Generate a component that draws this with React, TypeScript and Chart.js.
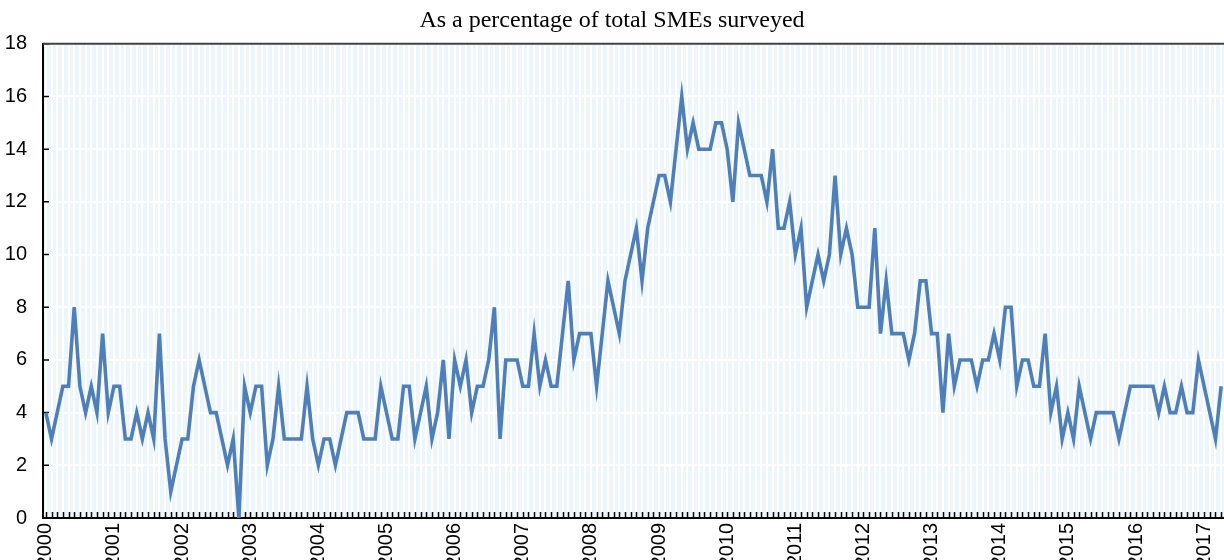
import React, { useEffect, useRef } from "react";
import { Chart, registerables } from "chart.js";

Chart.register(...registerables);

const years = [
  "2000", "2001", "2002", "2003", "2004", "2005", "2006", "2007", "2008",
  "2009", "2010", "2011", "2012", "2013", "2014", "2015", "2016", "2017",
];
const monthNumbers = ["01", "02", "03", "04", "05", "06", "07", "08", "09", "10", "11", "12"];

// Share of SMEs (%) - monthly
const seriesValues = [
  4, 3, 4, 5, 5, 8, 5, 4, 5, 4,
  7, 4, 5, 5, 3, 3, 4, 3, 4, 3,
  7, 3, 1, 2, 3, 3, 5, 6, 5, 4,
  4, 3, 2, 3, 0, 5, 4, 5, 5, 2,
  3, 5, 3, 3, 3, 3, 5, 3, 2, 3,
  3, 2, 3, 4, 4, 4, 3, 3, 3, 5,
  4, 3, 3, 5, 5, 3, 4, 5, 3, 4,
  6, 3, 6, 5, 6, 4, 5, 5, 6, 8,
  3, 6, 6, 6, 5, 5, 7, 5, 6, 5,
  5, 7, 9, 6, 7, 7, 7, 5, 7, 9,
  8, 7, 9, 10, 11, 9, 11, 12, 13, 13,
  12, 14, 16, 14, 15, 14, 14, 14, 15, 15,
  14, 12, 15, 14, 13, 13, 13, 12, 14, 11,
  11, 12, 10, 11, 8, 9, 10, 9, 10, 13,
  10, 11, 10, 8, 8, 8, 11, 7, 9, 7,
  7, 7, 6, 7, 9, 9, 7, 7, 4, 7,
  5, 6, 6, 6, 5, 6, 6, 7, 6, 8,
  8, 5, 6, 6, 5, 5, 7, 4, 5, 3,
  4, 3, 5, 4, 3, 4, 4, 4, 4, 3,
  4, 5, 5, 5, 5, 5, 4, 5, 4, 4,
  5, 4, 4, 6, 5, 4, 3, 5,
];

const yTicks = [0, 2, 4, 6, 8, 10, 12, 14, 16, 18];

const titleText = "As a percentage of total SMEs surveyed";

const allMonths: string[] = [];
years.forEach((y) => monthNumbers.forEach((m) => allMonths.push(`${y}-${m}`)));
const categories = allMonths.slice(0, seriesValues.length);

const TICK_FONT = "'Liberation Sans Narrow', 'Arial Narrow', 'Liberation Sans', Arial, sans-serif";

const framePlugin = {
  id: "framePlugin",
  beforeDraw(chart: any) {
    const { ctx, chartArea: a } = chart;
    ctx.save();
    ctx.fillStyle = "#edf7fb";
    ctx.fillRect(a.left, a.top, a.right - a.left, a.bottom - a.top);
    ctx.restore();
  },
  beforeDatasetsDraw(chart: any) {
    const { ctx, chartArea: a, scales } = chart;
    const xs = scales.x;
    const ys = scales.y;
    ctx.save();
    ctx.strokeStyle = "#000";
    ctx.lineWidth = 1.5;
    ctx.beginPath();
    for (let i = 0; i < categories.length; i++) {
      const px = Math.round(xs.getPixelForValue(i)) + 0.5;
      ctx.moveTo(px, a.bottom);
      ctx.lineTo(px, a.bottom - 6);
    }
    yTicks.forEach((v) => {
      const py = ys.getPixelForValue(v);
      ctx.moveTo(a.left, py);
      ctx.lineTo(a.left + 6, py);
    });
    ctx.stroke();
    ctx.strokeStyle = "#404040";
    ctx.lineWidth = 2;
    ctx.beginPath();
    ctx.moveTo(a.left, a.top);
    ctx.lineTo(a.right, a.top);
    ctx.stroke();
    ctx.restore();
  },
};

export default function App() {
  const canvasRef = useRef<HTMLCanvasElement | null>(null);

  useEffect(() => {
    if (!canvasRef.current) return;
    const chart = new Chart(canvasRef.current, {
      type: "line",
      data: {
        labels: categories,
        datasets: [
          {
            data: seriesValues,
            borderColor: "#4f7fb9",
            borderWidth: 3.6,
            pointRadius: 0,
            tension: 0,
            borderJoinStyle: "miter",
            fill: false,
          },
        ],
      },
      options: {
        animation: false,
        responsive: false,
        layout: { padding: { left: 0, right: 0, top: 0, bottom: 0 } },
        plugins: {
          legend: { display: false },
          tooltip: { enabled: false },
          title: {
            display: true,
            text: titleText,
            color: "#000",
            font: { family: "'Liberation Serif', 'Times New Roman', serif", size: 24, weight: "normal" },
            padding: { top: 6, bottom: 9 },
          },
        },
        scales: {
          x: {
            type: "category",
            offset: true,
            grid: { color: "#ffffff", lineWidth: 2, drawTicks: false },
            border: { color: "#000", width: 2 },
            ticks: {
              autoSkip: false,
              minRotation: 90,
              maxRotation: 90,
              padding: 5,
              color: "#000",
              font: { family: TICK_FONT, size: 20 },
              callback: (_v: any, i: number) =>
                categories[i].endsWith("-01") ? categories[i].slice(0, 4) : "",
            },
            afterFit: (s: any) => {
              s.height = 42;
              s.paddingLeft = 0;
              s.paddingRight = 0;
            },
          },
          y: {
            min: 0,
            max: 18,
            grid: { color: "#ffffff", lineWidth: 2, drawTicks: false },
            border: { color: "#000", width: 2 },
            afterBuildTicks: (s: any) => {
              s.ticks = yTicks.map((v) => ({ value: v }));
            },
            ticks: {
              padding: 16,
              color: "#000",
              font: { family: TICK_FONT, size: 20 },
            },
            afterFit: (s: any) => {
              s.width = 43;
              s.paddingTop = 0;
              s.paddingBottom = 0;
            },
          },
        },
      },
      plugins: [framePlugin],
    });
    return () => chart.destroy();
  }, []);

  return (
    <div style={{ position: "absolute", left: 0, top: 0, width: 1224, height: 560 }}>
      <canvas ref={canvasRef} width={1224} height={560} style={{ display: "block" }} />
    </div>
  );
}
